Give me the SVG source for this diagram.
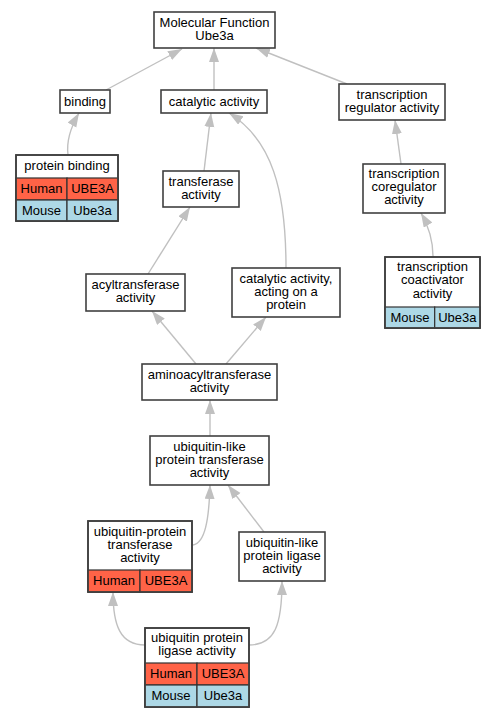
<svg xmlns="http://www.w3.org/2000/svg" width="495" height="717" viewBox="0 0 495 717">
<defs>
<style>
text{font-family:"Liberation Sans",Arial,sans-serif;font-size:13px;fill:#000;text-anchor:middle}
.box{fill:#fff;stroke:#404040;stroke-width:1.6}
.cell{stroke:#333;stroke-width:1.2}
.hu{fill:#ff6347}
.mo{fill:#add8e6}
.edge{fill:none;stroke:#c0c0c0;stroke-width:1.4;marker-end:url(#arr)}
</style>
<marker id="arr" markerUnits="userSpaceOnUse" markerWidth="15" markerHeight="11" refX="14" refY="5" orient="auto">
<path d="M0,0 L14,5 L0,10 z" fill="#c0c0c0"/>
</marker>
</defs>
<rect width="495" height="717" fill="#fff"/>
<g id="edges">
<path class="edge" d="M106,90 L182,49"/>
<path class="edge" d="M214,90 L214,48"/>
<path class="edge" d="M347,84 L256,48"/>
<path class="edge" d="M68,155 C66,140 72,125 79,113"/>
<path class="edge" d="M204,171 L211,113"/>
<path class="edge" d="M286,268 C286,190 272,140 229,113"/>
<path class="edge" d="M401,164 L395,120"/>
<path class="edge" d="M433,257 C433,240 428,225 421,213"/>
<path class="edge" d="M148,274 L190,207"/>
<path class="edge" d="M196,364 L152,311"/>
<path class="edge" d="M226,364 L266,317"/>
<path class="edge" d="M210,436 L210,400"/>
<path class="edge" d="M193,545 C205,543 209,520 210,485"/>
<path class="edge" d="M264,532 L228,485"/>
<path class="edge" d="M145,645 C120,645 113,625 113,592"/>
<path class="edge" d="M249,645 C275,645 282,625 282,581"/>
</g>
<g id="n_mf">
<rect class="box" x="154" y="12" width="121" height="36"/>
<text x="214.5" y="26.5">Molecular Function</text>
<text x="214.5" y="39.5">Ube3a</text>
</g>
<g id="n_binding">
<rect class="box" x="60" y="90" width="50" height="23"/>
<text x="85" y="105.5">binding</text>
</g>
<g id="n_catalytic">
<rect class="box" x="161" y="90" width="106" height="23"/>
<text x="214" y="105.5">catalytic activity</text>
</g>
<g id="n_transreg">
<rect class="box" x="339" y="84" width="106" height="36"/>
<text x="392" y="98.5">transcription</text>
<text x="392" y="111.5">regulator activity</text>
</g>
<g id="n_proteinbinding">
<rect class="box" x="16" y="155" width="102" height="66"/>
<text x="67" y="170">protein binding</text>
<rect class="cell hu" x="16" y="178" width="51" height="22"/>
<rect class="cell hu" x="67" y="178" width="51" height="22"/>
<rect class="cell mo" x="16" y="200" width="51" height="21"/>
<rect class="cell mo" x="67" y="200" width="51" height="21"/>
<rect x="16" y="155" width="102" height="66" fill="none" stroke="#404040" stroke-width="1.6"/>
<text x="41.5" y="193">Human</text>
<text x="92.5" y="193">UBE3A</text>
<text x="41.5" y="214.5">Mouse</text>
<text x="92.5" y="214.5">Ube3a</text>
</g>
<g id="n_transferase">
<rect class="box" x="163" y="171" width="76" height="36"/>
<text x="201" y="185.5">transferase</text>
<text x="201" y="198.5">activity</text>
</g>
<g id="n_coregulator">
<rect class="box" x="363" y="164" width="82" height="49"/>
<text x="404" y="178">transcription</text>
<text x="404" y="191">coregulator</text>
<text x="404" y="204">activity</text>
</g>
<g id="n_acyl">
<rect class="box" x="86" y="274" width="99" height="37"/>
<text x="135.5" y="289">acyltransferase</text>
<text x="135.5" y="302">activity</text>
</g>
<g id="n_catprot">
<rect class="box" x="232" y="268" width="108" height="49"/>
<text x="286" y="282.5">catalytic activity,</text>
<text x="286" y="295.5">acting on a</text>
<text x="286" y="308.5">protein</text>
</g>
<g id="n_coactivator">
<rect class="box" x="385" y="257" width="95" height="71"/>
<text x="432.5" y="271">transcription</text>
<text x="432.5" y="284.3">coactivator</text>
<text x="432.5" y="297.7">activity</text>
<rect class="cell mo" x="385" y="307" width="49.7" height="21"/>
<rect class="cell mo" x="434.7" y="307" width="45.3" height="21"/>
<rect x="385" y="257" width="95" height="71" fill="none" stroke="#404040" stroke-width="1.6"/>
<text x="410" y="321.5">Mouse</text>
<text x="457.3" y="321.5">Ube3a</text>
</g>
<g id="n_aminoacyl">
<rect class="box" x="142" y="364" width="135" height="36"/>
<text x="209.5" y="378.5">aminoacyltransferase</text>
<text x="209.5" y="391.5">activity</text>
</g>
<g id="n_ubltransferase">
<rect class="box" x="150" y="436" width="119" height="49"/>
<text x="209.5" y="450.5">ubiquitin-like</text>
<text x="209.5" y="463.5">protein transferase</text>
<text x="209.5" y="476.5">activity</text>
</g>
<g id="n_ubptransferase">
<rect class="box" x="88" y="521" width="104" height="71"/>
<text x="140" y="535.5">ubiquitin-protein</text>
<text x="140" y="548.5">transferase</text>
<text x="140" y="561.5">activity</text>
<rect class="cell hu" x="88" y="570" width="52" height="22"/>
<rect class="cell hu" x="140" y="570" width="52" height="22"/>
<rect x="88" y="521" width="104" height="71" fill="none" stroke="#404040" stroke-width="1.6"/>
<text x="114" y="585">Human</text>
<text x="166" y="585">UBE3A</text>
</g>
<g id="n_ublligase">
<rect class="box" x="239" y="532" width="86" height="49"/>
<text x="282" y="546.5">ubiquitin-like</text>
<text x="282" y="559.5">protein ligase</text>
<text x="282" y="572.5">activity</text>
</g>
<g id="n_ubpligase">
<rect class="box" x="145" y="628" width="104" height="79"/>
<text x="197" y="642">ubiquitin protein</text>
<text x="197" y="655">ligase activity</text>
<rect class="cell hu" x="145" y="663" width="52" height="22"/>
<rect class="cell hu" x="197" y="663" width="52" height="22"/>
<rect class="cell mo" x="145" y="685" width="52" height="22"/>
<rect class="cell mo" x="197" y="685" width="52" height="22"/>
<rect x="145" y="628" width="104" height="79" fill="none" stroke="#404040" stroke-width="1.6"/>
<text x="171" y="678">Human</text>
<text x="223" y="678">UBE3A</text>
<text x="171" y="700">Mouse</text>
<text x="223" y="700">Ube3a</text>
</g>
</svg>
